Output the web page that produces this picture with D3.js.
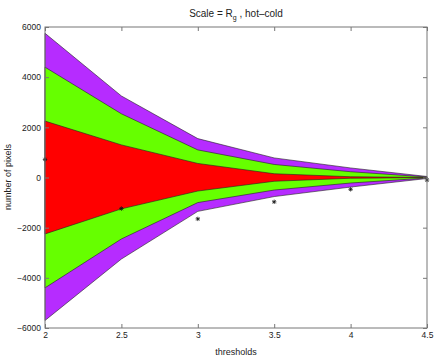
<!DOCTYPE html>
<html><head><meta charset="utf-8">
<script src="https://cdn.jsdelivr.net/npm/d3@7"></script>
<style>body{margin:0;background:#fff}svg{display:block;font-family:"Liberation Sans",Arial,sans-serif}</style>
</head><body><svg id="c" width="436" height="359"></svg>
<script>
const thresholds = [2, 2.5, 3, 3.5, 4, 4.5];
const purpleTop = [5750, 3250, 1550, 780, 380, 40];
const greenTop = [4400, 2540, 1100, 520, 230, 20];
const redTop = [2250, 1300, 560, 150, 30, 5];
const redBottom = [-2250, -1250, -540, -150, -30, -5];
const greenBottom = [-4400, -2450, -1000, -500, -220, -20];
const purpleBottom = [-5700, -3250, -1350, -760, -380, -40];
const stars = [720, -1240, -1650, -970, -470, -100];
const xTicks = [2, 2.5, 3, 3.5, 4, 4.5];
const yTicks = [-6000, -4000, -2000, 0, 2000, 4000, 6000];

const svg = d3.select("#c");
const L = 45, R = 427, T = 27, B = 328;
const x = d3.scaleLinear().domain([2, 4.5]).range([L, R]);
const y = d3.scaleLinear().domain([-6000, 6000]).range([B, T]);

function band(top, bot) {
  const pts = thresholds.map((t, i) => [x(t), y(top[i])])
    .concat(thresholds.map((t, i) => [x(t), y(bot[i])]).reverse());
  return d3.line()(pts) + "Z";
}
const bands = [
  {top: purpleTop, bot: purpleBottom, color: "#b62cff"},
  {top: greenTop, bot: greenBottom, color: "#66ff00"},
  {top: redTop, bot: redBottom, color: "#ff0000"}
];
svg.selectAll("path.band").data(bands).join("path")
  .attr("class", "band")
  .attr("d", d => band(d.top, d.bot))
  .attr("fill", d => d.color)
  .attr("stroke", "#222").attr("stroke-width", 0.6);

// stars
const starSym = d3.symbol().type(d3.symbolAsterisk || d3.symbolCross).size(18);
const g = svg.append("g");
stars.forEach((v, i) => {
  const cx = x(thresholds[i]), cy = y(v);
  [[-2.2,0,2.2,0],[0,-2.2,0,2.2],[-1.6,-1.6,1.6,1.6],[-1.6,1.6,1.6,-1.6]].forEach(s => {
    g.append("line").attr("x1", cx + s[0]).attr("y1", cy + s[1])
      .attr("x2", cx + s[2]).attr("y2", cy + s[3])
      .attr("stroke", "#111").attr("stroke-width", 0.8);
  });
});

// axes box
const axColor = "#777";
const ax = svg.append("g");
ax.append("rect").attr("x", L).attr("y", T).attr("width", R - L).attr("height", B - T)
  .attr("fill", "none").attr("stroke", axColor).attr("stroke-width", 1);
const xb = svg.append("g").attr("transform", `translate(0,${B})`)
  .call(d3.axisBottom(x).tickValues(xTicks).tickSize(-4).tickPadding(6).tickFormat(d3.format("")));
const xt = svg.append("g").attr("transform", `translate(0,${T})`)
  .call(d3.axisTop(x).tickValues(xTicks).tickSize(-4).tickFormat(""));
const yl = svg.append("g").attr("transform", `translate(${L},0)`)
  .call(d3.axisLeft(y).tickValues(yTicks).tickSize(-4).tickPadding(4).tickFormat(d => d < 0 ? "\u2212" + Math.abs(d) : d));
const yr = svg.append("g").attr("transform", `translate(${R},0)`)
  .call(d3.axisRight(y).tickValues(yTicks).tickSize(-4).tickFormat(""));
[xb, xt, yl, yr].forEach(a => {
  a.select(".domain").remove();
  a.selectAll("line").attr("stroke", axColor);
  a.selectAll("text").attr("fill", "#222").attr("font-size", 8.5).attr("font-family", "Liberation Sans, Arial, sans-serif");
});
xb.selectAll("text").attr("dy", "0.5em");

// labels
const title = svg.append("text").attr("x", 236).attr("y", 17).attr("text-anchor", "middle")
  .attr("font-size", 10).attr("fill", "#222");
title.append("tspan").text("Scale = R");
title.append("tspan").attr("font-size", 7).attr("dy", 3).text("g");
title.append("tspan").attr("dy", -3).text(" , hot\u2013cold");

svg.append("text").attr("x", 236).attr("y", 355).attr("text-anchor", "middle")
  .attr("font-size", 9).attr("fill", "#222").text("thresholds");
svg.append("text").attr("transform", "translate(11,177) rotate(-90)").attr("text-anchor", "middle")
  .attr("font-size", 9).attr("fill", "#222").text("number of pixels");
</script></body></html>
